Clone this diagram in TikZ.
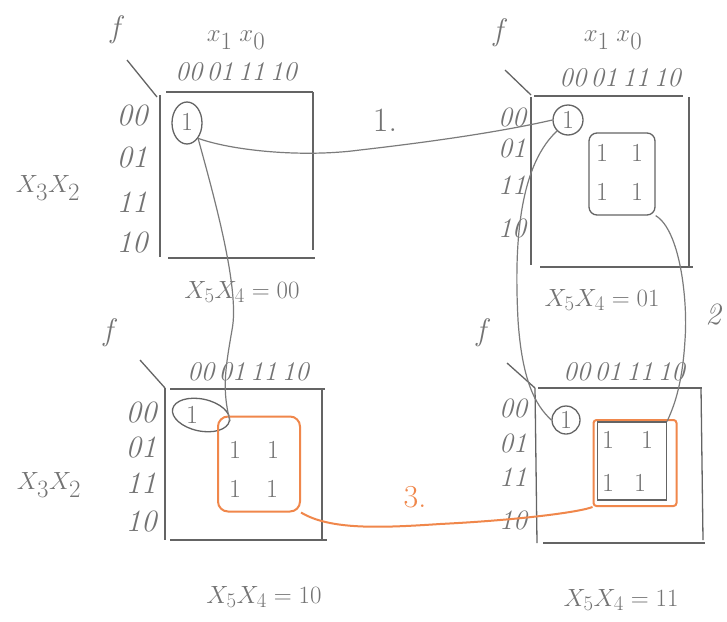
\documentclass[tikz,border=0pt]{standalone}
\usepackage{xcolor}
\usetikzlibrary{shapes.geometric}
\definecolor{pencil}{RGB}{100,100,100}
\definecolor{hw}{RGB}{115,115,115}
\definecolor{orangepen}{RGB}{240,135,75}
\tikzset{
  frame/.style={draw=pencil, line width=1.3pt},
  link/.style={draw=pencil!85, line width=1.2pt},
  olink/.style={draw=orangepen, line width=2pt},
  txt/.style={text=hw, inner sep=0pt},
  big/.style={txt, font=\fontsize{31}{33}\selectfont\itshape},
  head/.style={txt, font=\fontsize{35}{37}\selectfont\itshape},
  mid/.style={txt, font=\fontsize{28}{30}\selectfont\itshape},
  cols/.style={txt, font=\fontsize{27}{29}\selectfont\itshape},
  one/.style={txt, font=\fontsize{26}{28}\selectfont},
  ring/.style={draw=pencil, line width=1.3pt},
  grp/.style={draw=pencil, line width=1.3pt, rounded corners=8pt},
  ogrp/.style={draw=orangepen, line width=2pt, rounded corners=10pt},
}
\begin{document}
\begin{tikzpicture}[x=1pt,y=-1pt]
\useasboundingbox (0,0) rectangle (727,621);
\fill[white] (0,0) rectangle (727,621);

% ---------- map 1 (x5x4 = 00) ----------
\draw[frame] (160,95) -- (160,257);
\draw[frame] (166,92) -- (313,92);
\draw[frame] (313,92) -- (313,250);
\draw[frame] (168,258) -- (315,258);
\draw[frame] (127,60) -- (157,97);
\node[big] (f1) at (115,30) {f};
\node[head] (h1) at (236,40) {$x_1\;x_0$};
\node[cols] (c1) at (236,72) {00\,01\,11\,10};
\node[big] (r1a) at (132,116) {00};
\node[big] (r1b) at (132,158) {01};
\node[big] (r1c) at (132,202) {11};
\node[big] (r1d) at (132,243) {10};
\node[head] (v1) at (48,188) {$X_3X_2$};
\node[one] (o1) at (187,122) {1};
\node[ring, ellipse, minimum width=30pt, minimum height=42pt, inner sep=0pt] (e1) at (187,123) {};
\node[mid] (l1) at (242,292) {$X_5X_4=00$};

% ---------- map 2 (x5x4 = 01) ----------
\draw[frame] (531,97) -- (531,265);
\draw[frame] (534,96) -- (683,96);
\draw[frame] (689,97) -- (689,267);
\draw[frame] (540,267) -- (693,267);
\draw[frame] (505,70) -- (531,95);
\node[big] (f2) at (498,33) {f};
\node[head] (h2) at (613,40) {$x_1\;x_0$};
\node[cols] (c2) at (620,78) {00\,01\,11\,10};
\node[mid] (r2a) at (512,117) {00};
\node[mid] (r2b) at (512,148) {01};
\node[mid] (r2c) at (512,185) {11};
\node[mid] (r2d) at (512,228) {10};
\node[one] (o2) at (568,120) {1};
\node[ring, circle, minimum size=30pt, inner sep=0pt] (e2) at (568,120) {};
\node[grp, minimum width=66pt, minimum height=82pt] (g2) at (622,174) {};
\node[one] at (602,153) {1};
\node[one] at (637,153) {1};
\node[one] at (602,192) {1};
\node[one] at (637,192) {1};
\node[mid] (l2) at (602,300) {$X_5X_4=01$};
\node[txt, font=\fontsize{34}{36}\selectfont] (n1) at (385,120) {1.};
\node[big] (n2) at (713,315) {2};

% ---------- map 3 (x5x4 = 10) ----------
\draw[frame] (165,388) -- (165,540);
\draw[frame] (170,389) -- (325,389);
\draw[frame] (322,389) -- (322,540);
\draw[frame] (170,540) -- (327,540);
\draw[frame] (140,360) -- (165,388);
\node[big] (f3) at (108,333) {f};
\node[cols] (c3) at (248,372) {00\,01\,11\,10};
\node[big] (r3a) at (141,413) {00};
\node[big] (r3b) at (141,448) {01};
\node[big] (r3c) at (141,483) {11};
\node[big] (r3d) at (141,522) {10};
\node[head] (v3) at (49,485) {$X_3X_2$};
\node[one] (o3) at (192,415) {1};
\node[ring, ellipse, rotate=-12, minimum width=58pt, minimum height=32pt, inner sep=0pt] (e3) at (201,415) {};
\node[ogrp, minimum width=82pt, minimum height=95pt] (g3) at (259,464) {};
\node[one] at (235,450) {1};
\node[one] at (273,450) {1};
\node[one] at (235,489) {1};
\node[one] at (272,489) {1};
\node[mid] (l3) at (264,597) {$X_5X_4=10$};

% ---------- map 4 (x5x4 = 11) ----------
\draw[frame] (535,388) -- (537,543);
\draw[frame] (538,388) -- (702,388);
\draw[frame] (701,388) -- (703,540);
\draw[frame] (543,543) -- (705,543);
\draw[frame] (507,363) -- (535,388);
\node[big] (f4) at (481,333) {f};
\node[cols] (c4) at (624,372) {00\,01\,11\,10};
\node[mid] (r4a) at (513,408) {00};
\node[mid] (r4b) at (513,443) {01};
\node[mid] (r4c) at (513,477) {11};
\node[mid] (r4d) at (513,520) {10};
\node[one] (o4) at (566,420) {1};
\node[ring, circle, minimum size=28pt, inner sep=0pt] (e4) at (566,420) {};
\node[ogrp, rounded corners=3pt, minimum width=83pt, minimum height=86pt] (og4) at (635,463) {};
\node[draw=pencil, line width=1.3pt, minimum width=69pt, minimum height=78pt] (g4) at (632,461) {};
\node[one] at (608,440) {1};
\node[one] at (647,440) {1};
\node[one] at (608,483) {1};
\node[one] at (640,483) {1};
\node[mid] (l4) at (621,600) {$X_5X_4=11$};
\node[txt, text=orangepen, font=\fontsize{32}{34}\selectfont] (n3) at (415,497) {3.};

% ---------- connectors ----------
\draw[link] (e1.south east) .. controls (230,150) and (300,158) .. (360,150)
            .. controls (430,142) and (500,132) .. (e2.west);
\draw[link] (e1.south east) .. controls (215,200) and (240,290) .. (232,330)
            .. controls (225,370) and (222,390) .. (e3.east);
\draw[link] (e2.south west) .. controls (515,170) and (515,260) .. (518,320)
            .. controls (522,380) and (535,405) .. (e4.west);
\draw[link] (g2.south east) .. controls (680,230) and (688,300) .. (685,340)
            .. controls (682,390) and (672,410) .. (g4.north east);
\draw[olink] (g3.south east) .. controls (330,530) and (380,528) .. (440,524)
            .. controls (520,520) and (580,512) .. (og4.south west);
\end{tikzpicture}
\end{document}
